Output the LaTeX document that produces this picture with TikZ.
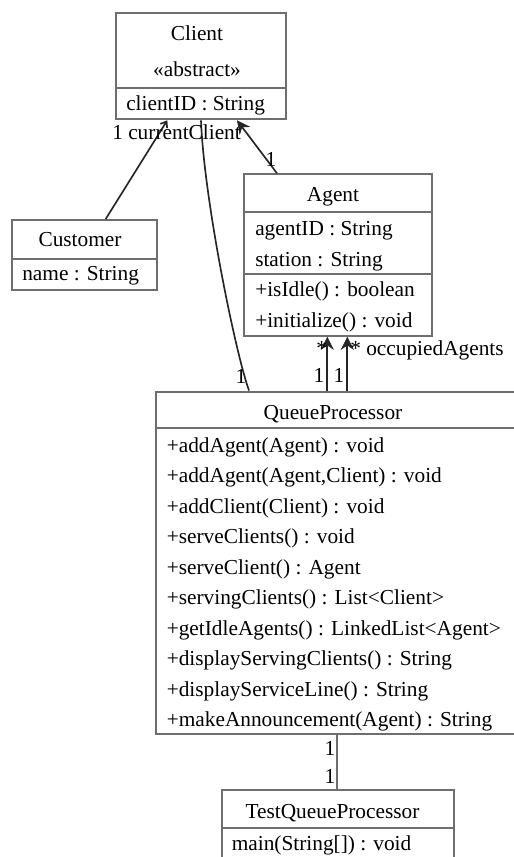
\documentclass[tikz,border=0pt]{standalone}
\usepackage{fontspec}
\setmainfont{Liberation Serif}
\usetikzlibrary{arrows.meta,fit,calc}
\definecolor{boxgray}{HTML}{6E6E6E}
\definecolor{linedark}{HTML}{262626}
\begin{document}
\begin{tikzpicture}[x=0.75pt,y=-0.75pt,
  box/.style={draw=boxgray,line width=1.5pt,fill=white,inner sep=0pt},
  sepline/.style={draw=boxgray,line width=1.5pt},
  txt/.style={inner sep=0pt,anchor=base west,font=\fontsize{16}{19}\selectfont},
  ctxt/.style={inner sep=0pt,anchor=base,font=\fontsize{16}{19}\selectfont},
  conn/.style={draw=linedark,line width=1.25pt},
  grayconn/.style={draw=boxgray,line width=1.5pt},
  filledtip/.style={-{Stealth[length=10pt,width=10pt,inset=3.5pt,line width=0.5pt]}},
  opentip/.style={-{Straight Barb[length=4pt,width=6pt]}},
]
\useasboundingbox (0,0) rectangle (514,857);
\clip (0,0) rectangle (514,857);

% ---------- Client ----------
\node[box,fit={(116,13) (285.5,119.3)}] (client) {};
\draw[sepline] (116,88) -- (285.5,88);
\node[ctxt] (clientname) at (197,40.7) {Client};
\node[ctxt] (clientster) at (197,76.7) {«abstract»};
\node[txt] (clientattr) at (126,110) {clientID : String};

% ---------- Customer ----------
\node[box,fit={(11.7,220) (157.3,290)}] (customer) {};
\draw[sepline] (11.7,259.3) -- (157.3,259.3);
\node[ctxt] (customername) at (80,246.7) {Customer};
\node[txt] (customerattr) at (22,280) {name : String};

% ---------- Agent ----------
\node[box,fit={(244.3,174.3) (431.7,335.7)}] (agent) {};
\draw[sepline] (244.3,212.3) -- (431.7,212.3);
\draw[sepline] (244.3,274.3) -- (431.7,274.3);
\node[ctxt] (agentname) at (333,201.7) {Agent};
\node[txt] (agenta1) at (255,235.5) {agentID : String};
\node[txt] (agenta2) at (255,266) {station : String};
\node[txt] (agentm1) at (255,296.5) {+isIdle() : boolean};
\node[txt] (agentm2) at (255,327) {+initialize() : void};

% ---------- QueueProcessor ----------
\node[box,fit={(156,391.5) (519,734)}] (queue) {};
\draw[sepline] (156,428) -- (519,428);
\node[ctxt] (queuename) at (333,419) {QueueProcessor};
\node[txt] (qm1)  at (166.5,452)   {+addAgent(Agent) : void};
\node[txt] (qm2)  at (166.5,482.5) {+addAgent(Agent,Client) : void};
\node[txt] (qm3)  at (166.5,513)   {+addClient(Client) : void};
\node[txt] (qm4)  at (166.5,543.5) {+serveClients() : void};
\node[txt] (qm5)  at (166.5,574)   {+serveClient() : Agent};
\node[txt] (qm6)  at (166.5,604.5) {+servingClients() : List<Client>};
\node[txt] (qm7)  at (166.5,635)   {+getIdleAgents() : LinkedList<Agent>};
\node[txt] (qm8)  at (166.5,665.5) {+displayServingClients() : String};
\node[txt] (qm9)  at (166.5,696)   {+displayServiceLine() : String};
\node[txt] (qm10) at (166.5,726.5) {+makeAnnouncement(Agent) : String};

% ---------- TestQueueProcessor ----------
\node[box,fit={(221.7,790) (454.3,880)}] (test) {};
\draw[sepline] (221.7,828) -- (454.3,828);
\node[ctxt] (testname) at (332.5,818) {TestQueueProcessor};
\node[txt] (testm1) at (231.5,850) {main(String[]) : void};

% ---------- connectors ----------
% Customer -> Client
\draw[conn,opentip] ($(customer.north west)+(95,0)$) -- ($(client.south west)+(52.3,0)$);
% Agent -> Client
\draw[conn,filledtip] ($(agent.north west)+(33.7,0)$) -- ($(client.south west)+(122,0)$);
% QueueProcessor -- Client (currentClient)
\draw[conn] ($(queue.north west)+(94,0)$) .. controls (236,355) and (204,200) .. ($(client.south west)+(86,0)$);
% QueueProcessor -> Agent (two associations)
\draw[conn,filledtip] ($(queue.north west)+(172.3,0)$) -- ($(agent.south west)+(84,0)$);
\draw[conn,filledtip] ($(queue.north west)+(192.3,0)$) -- ($(agent.south west)+(104,0)$);
% QueueProcessor -- TestQueueProcessor
\draw[grayconn] ($(queue.south west)+(181.7,0)$) -- ($(test.north west)+(116,0)$);

% ---------- multiplicities / roles ----------
\node[txt] (lblcurrent) at (112,139) {1 currentClient};
\node[ctxt] (lblagentclient) at (271,166) {1};
\node[ctxt] (lblqclient) at (241,383) {1};
\node[ctxt] (lblstar1) at (321.7,355) {*};
\node[txt] (lblstar2) at (350,355) {* occupiedAgents};
\node[ctxt] (lblone1) at (319,382) {1};
\node[ctxt] (lblone2) at (339,382) {1};
\node[ctxt] (lbltest1) at (330,755) {1};
\node[ctxt] (lbltest2) at (330,783) {1};
\end{tikzpicture}
\end{document}
